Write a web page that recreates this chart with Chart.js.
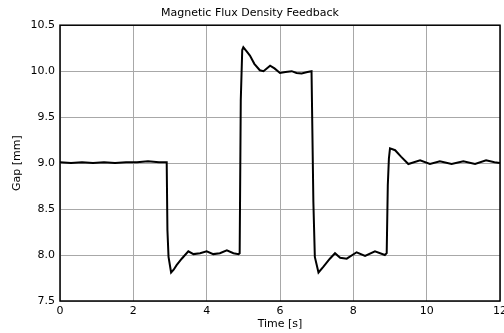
<!DOCTYPE html>
<html>
<head>
<meta charset="utf-8">
<script src="https://cdn.jsdelivr.net/npm/chart.js@4"></script>
<style>
  html, body { margin: 0; padding: 0; background: #fff; }
  #wrap { width: 504px; height: 333px; }
</style>
</head>
<body>
<div id="wrap"><canvas id="chart" width="504" height="333"></canvas></div>
<script>
// values
const timeS = [0, 0.3, 0.6, 0.9, 1.2, 1.5, 1.8, 2.1, 2.4, 2.7, 2.91,
  2.93, 2.96, 3.03, 3.10, 3.18, 3.32, 3.50, 3.64, 3.82, 4.00, 4.18, 4.36, 4.55, 4.73, 4.87, 4.90,
  4.93, 4.97, 5.00, 5.08, 5.18, 5.30, 5.45, 5.55, 5.73, 5.85, 6.00, 6.15, 6.32, 6.45, 6.59, 6.75, 6.86,
  6.91, 6.95, 7.05, 7.18, 7.36, 7.50, 7.64, 7.82, 8.09, 8.32, 8.59, 8.86, 8.91,
  8.94, 8.97, 9.00, 9.14, 9.30, 9.50, 9.82, 10.09, 10.36, 10.68, 11.00, 11.32, 11.62, 11.85, 12.00];
const gapMm = [9.01, 9.00, 9.01, 9.00, 9.01, 9.00, 9.01, 9.01, 9.02, 9.01, 9.01,
  8.27, 7.98, 7.81, 7.84, 7.89, 7.96, 8.04, 8.01, 8.02, 8.04, 8.01, 8.02, 8.05, 8.02, 8.01, 8.02,
  9.68, 10.23, 10.26, 10.22, 10.17, 10.08, 10.01, 10.00, 10.06, 10.03, 9.98, 9.99, 10.00, 9.98, 9.975, 9.99, 10.00,
  8.58, 7.98, 7.81, 7.87, 7.96, 8.02, 7.97, 7.96, 8.03, 7.99, 8.04, 8.00, 8.02,
  8.76, 9.05, 9.16, 9.14, 9.07, 8.99, 9.03, 8.99, 9.02, 8.99, 9.02, 8.99, 9.03, 9.01, 9.00];

const xTicks = [0, 2, 4, 6, 8, 10, 12];
const yTicks = [7.5, 8, 8.5, 9, 9.5, 10, 10.5];

const font = { family: "'DejaVu Sans', sans-serif", size: 11, weight: 'normal' };

// black frame round the plot area, like a matlab axes box
const boxPlugin = {
  id: 'box',
  afterDraw(chart) {
    const { ctx, chartArea: a } = chart;
    ctx.save();
    ctx.strokeStyle = '#000';
    ctx.lineWidth = 1.5;
    ctx.strokeRect(a.left, a.top, a.right - a.left, a.bottom - a.top);
    ctx.restore();
  }
};

new Chart(document.getElementById('chart'), {
  type: 'line',
  data: {
    datasets: [{
      data: timeS.map((t, i) => ({ x: t, y: gapMm[i] })),
      borderColor: '#000',
      borderWidth: 2,
      pointRadius: 0,
      tension: 0,
      fill: false
    }]
  },
  options: {
    responsive: false,
    animation: false,
    layout: { padding: { left: 0, right: 4, top: 0, bottom: 0 } },
    plugins: {
      legend: { display: false },
      tooltip: { enabled: false },
      title: {
        display: true,
        text: 'Magnetic Flux Density Feedback',
        color: '#000',
        font: font,
        padding: { top: 7, bottom: 5 }
      }
    },
    scales: {
      x: {
        type: 'linear',
        min: xTicks[0],
        max: xTicks[xTicks.length - 1],
        afterBuildTicks: s => { s.ticks = xTicks.map(v => ({ value: v })); },
        ticks: { color: '#000', font: font, padding: 4, maxRotation: 0 },
        grid: { color: '#a8a8a8', lineWidth: 1, drawTicks: false },
        border: { display: false },
        title: { display: true, text: 'Time [s]', color: '#000', font: font, padding: { top: 2, bottom: 2 } },
        afterFit: s => { s.height = 32; s.paddingRight = 0; s.paddingLeft = 0; }
      },
      y: {
        min: yTicks[0],
        max: yTicks[yTicks.length - 1],
        afterBuildTicks: s => { s.ticks = yTicks.map(v => ({ value: v })); },
        ticks: { color: '#000', font: font, padding: 5 },
        grid: { color: '#a8a8a8', lineWidth: 1, drawTicks: false },
        border: { display: false },
        title: { display: true, text: 'Gap [mm]', color: '#000', font: font, padding: { top: 11, bottom: 0 } },
        afterFit: s => { s.width = 60; s.paddingTop = 0; s.paddingBottom = 0; }
      }
    }
  },
  plugins: [boxPlugin]
});
</script>
</body>
</html>
